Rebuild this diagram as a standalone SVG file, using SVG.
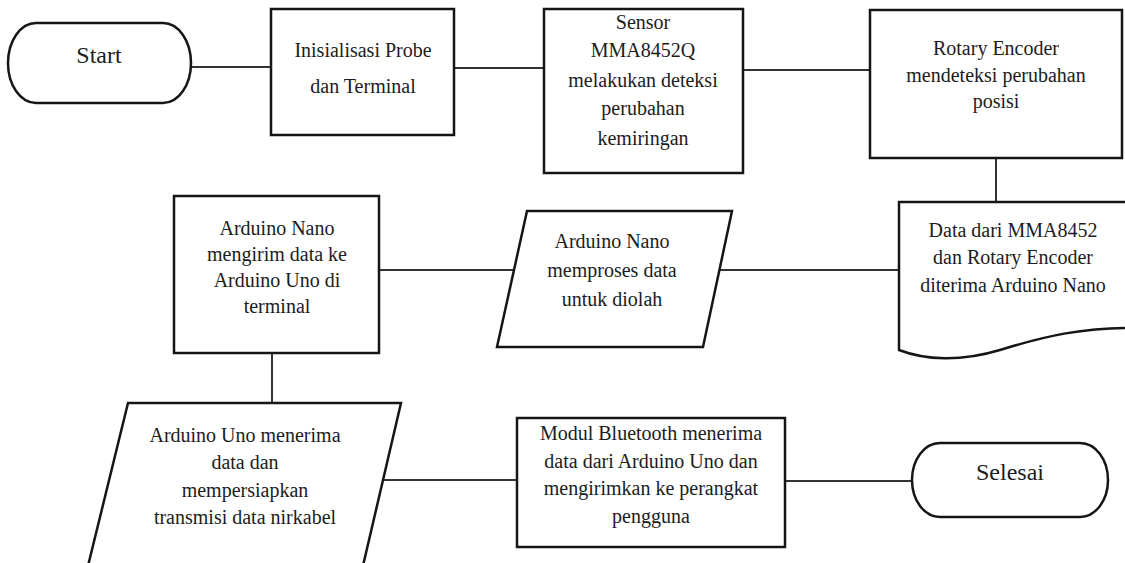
<svg xmlns="http://www.w3.org/2000/svg" width="1125" height="563" viewBox="0 0 1125 563">
<style>
.s{fill:#fff;stroke:#151515;stroke-width:2.5}
.c{fill:none;stroke:#333;stroke-width:2}
text{font-family:"Liberation Serif","Times New Roman",serif;font-size:20px;fill:#1c1c1c;text-anchor:middle}
.big{font-size:24px}
</style>
<rect width="1125" height="563" fill="#fff"/>
<g id="connectors">
<path class="c" d="M191,67 H271"/>
<path class="c" d="M454,68 H544"/>
<path class="c" d="M743,70 H870"/>
<path class="c" d="M996,158 V202"/>
<path class="c" d="M899,270 H698"/>
<path class="c" d="M513,270 H379"/>
<path class="c" d="M272,352 V403"/>
<path class="c" d="M382,480 H517"/>
<path class="c" d="M785,481 H912"/>
</g>
<g id="start">
<rect class="s" x="8" y="23" width="183" height="80" rx="28" ry="40"/>
<text class="big" x="99" y="63">Start</text>
</g>
<g id="init">
<rect class="s" x="271" y="9" width="183" height="126"/>
<text x="363" y="57">Inisialisasi Probe</text>
<text x="363" y="93">dan Terminal</text>
</g>
<g id="sensor">
<rect class="s" x="544" y="9" width="199" height="164"/>
<text x="643" y="29">Sensor</text>
<text x="643" y="57">MMA8452Q</text>
<text x="643" y="87">melakukan deteksi</text>
<text x="643" y="115">perubahan</text>
<text x="643" y="145">kemiringan</text>
</g>
<g id="rotary">
<rect class="s" x="870" y="10" width="252" height="148"/>
<text x="996" y="55">Rotary Encoder</text>
<text x="996" y="82">mendeteksi perubahan</text>
<text x="996" y="108">posisi</text>
</g>
<g id="data">
<path class="s" d="M899,350 V202 H1135 V328 C1085,327 1045,336 1000,350 C960,362 925,360 899,350 Z"/>
<text x="1013" y="237">Data dari MMA8452</text>
<text x="1013" y="264">dan Rotary Encoder</text>
<text x="1013" y="292">diterima Arduino Nano</text>
</g>
<g id="proses">
<path class="s" d="M527,211 H732 L703,347 H497 Z"/>
<text x="612" y="248">Arduino Nano</text>
<text x="612" y="277">memproses data</text>
<text x="612" y="306">untuk diolah</text>
</g>
<g id="kirim">
<rect class="s" x="174" y="196" width="205" height="157"/>
<text x="277" y="235">Arduino Nano</text>
<text x="277" y="261">mengirim data ke</text>
<text x="277" y="287">Arduino Uno di</text>
<text x="277" y="313">terminal</text>
</g>
<g id="uno">
<path class="s" d="M128,403 H401 L362,570 H87 Z"/>
<text x="245" y="442">Arduino Uno menerima</text>
<text x="245" y="469">data dan</text>
<text x="245" y="497">mempersiapkan</text>
<text x="245" y="524">transmisi data nirkabel</text>
</g>
<g id="bluetooth">
<rect class="s" x="517" y="418" width="268" height="129"/>
<text x="651" y="440">Modul Bluetooth menerima</text>
<text x="651" y="468">data dari Arduino Uno dan</text>
<text x="651" y="495">mengirimkan ke perangkat</text>
<text x="651" y="523">pengguna</text>
</g>
<g id="selesai">
<rect class="s" x="912" y="443" width="196" height="74" rx="28" ry="37"/>
<text class="big" x="1010" y="480">Selesai</text>
</g>
</svg>
